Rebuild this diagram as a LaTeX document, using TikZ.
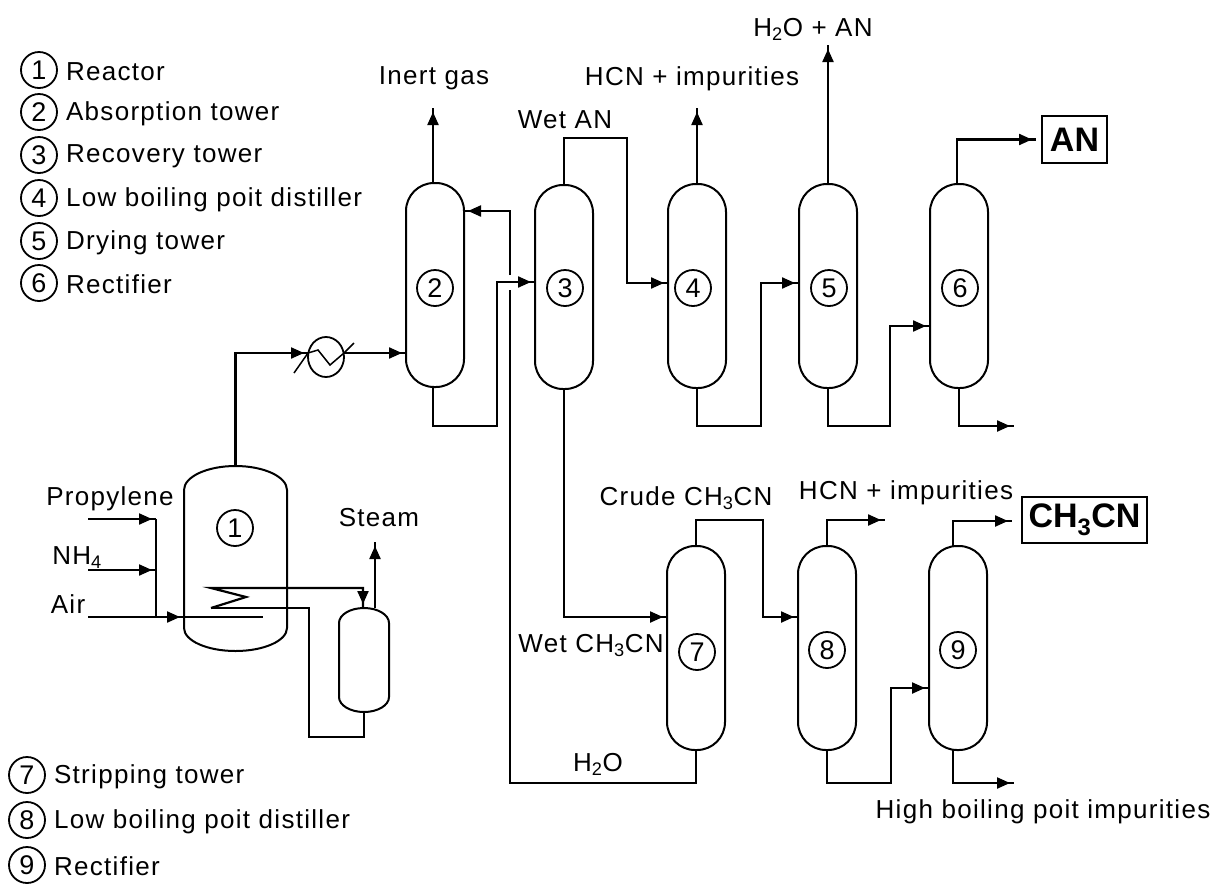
\documentclass[tikz,border=0pt]{standalone}
\usepackage{fontspec}
\setmainfont[LetterSpace=5]{Liberation Sans}
\newfontfamily\boxfont[LetterSpace=0]{Liberation Sans}
\usepackage{tikz}
\usetikzlibrary{arrows.meta,positioning,shapes.geometric,decorations.markings}
\tikzset{
  pipe/.style={line width=2.2pt},
  flow/.style={pipe,postaction={decorate},decoration={markings,mark=at position -4pt with {\arrow{Stealth[length=13pt,width=11pt,inset=0pt]}}}},
  tower/.style={draw,line width=2pt,rounded corners=28pt,minimum width=58pt,minimum height=204pt,inner sep=0pt},
  wall/.style={line width=2pt},
  hollow/.style={inner sep=0pt,outer sep=0pt},
  num/.style={circle,draw,line width=1.8pt,minimum size=36pt,inner sep=0pt,font=\fontsize{27}{30}\selectfont},
  lab/.style={inner sep=0pt,yshift=-1.5pt,font=\fontsize{26}{30}\selectfont},
  product/.style={draw,line width=2pt,inner sep=0pt,font=\boxfont\bfseries\fontsize{34}{38}\selectfont}
}
\begin{document}
\begin{tikzpicture}[x=1pt,y=-1pt]
  \useasboundingbox (0,0) rectangle (1214,884);

  % Draw the legends
  \node[num] (l1) at (39,70) {1};
  \node[lab,right=8pt of l1] (ll1) {Reactor};
  \node[num] (l2) at (39,112) {2};
  \node[lab,right=8pt of l2] (ll2) {Absorption tower};
  \node[num] (l3) at (39,155) {3};
  \node[lab,right=8pt of l3] (ll3) {Recovery tower};
  \node[num] (l4) at (39,198) {4};
  \node[lab,right=8pt of l4] (ll4) {Low boiling poit distiller};
  \node[num] (l5) at (39,241) {5};
  \node[lab,right=8pt of l5] (ll5) {Drying tower};
  \node[num] (l6) at (39,283) {6};
  \node[lab,right=8pt of l6] (ll6) {Rectifier};
  \node[num] (l7) at (27,775) {7};
  \node[lab,right=8pt of l7] (ll7) {Stripping tower};
  \node[num] (l8) at (27,820) {8};
  \node[lab,right=8pt of l8] (ll8) {Low boiling poit distiller};
  \node[num] (l9) at (27,865) {9};
  \node[lab,right=8pt of l9] (ll9) {Rectifier};

  % Draw the towers
  \node[tower] (t2) at (435,285) {};
  \node[tower] (t3) at (564,287) {};
  \node[tower] (t4) at (697,286) {};
  \node[tower] (t5) at (828,286) {};
  \node[tower] (t6) at (959,286) {};
  \node[tower] (t7) at (696,648) {};
  \node[tower] (t8) at (827,648) {};
  \node[tower] (t9) at (958,648) {};
  \node[num] (n2) at (435,288) {2};
  \node[num] (n3) at (565,288) {3};
  \node[num] (n4) at (693,288) {4};
  \node[num] (n5) at (829,288) {5};
  \node[num] (n6) at (960,288) {6};
  \node[num] (n7) at (697,652) {7};
  \node[num] (n8) at (827,650) {8};
  \node[num] (n9) at (958,650) {9};

  % Draw the reactor and the drum
  \node[hollow,minimum width=103pt,minimum height=185pt] (t1) at (235.5,558.5) {};
  \draw[wall] (184,490) arc[start angle=180,end angle=0,x radius=51.5pt,y radius=24pt] -- (287,628)
    arc[start angle=0,end angle=-180,x radius=51.5pt,y radius=23pt] -- cycle;
  \node[num] (n1) at (235,528) {1};
  \node[hollow,minimum width=50pt,minimum height=104pt] (d1) at (364,660) {};
  \draw[wall] (339,623) arc[start angle=180,end angle=0,x radius=25pt,y radius=15pt] -- (389,697)
    arc[start angle=0,end angle=-180,x radius=25pt,y radius=15pt] -- cycle;

  % Draw the exchanger
  \node[ellipse,draw,line width=1.8pt,minimum width=36pt,minimum height=40pt,inner sep=0pt] (hx) at (326,357) {};
  \coordinate (hxa) at (308,353);
  \coordinate (hxb) at (344,353);
  \coordinate (hxc) at (294,373);
  \coordinate (hxd) at (354,343);
  \draw[line width=1.5pt] (hxc) -- (hxa) -- (318,350) -- (330,365) -- (hxb) -- (hxd);

  % Draw the named ports
  \coordinate (in2) at (406,353);
  \coordinate (in2b) at (464,211);
  \coordinate (in3) at (535,282);
  \coordinate (in4) at (668,283);
  \coordinate (in5) at (799,283);
  \coordinate (in6) at (930,326);
  \coordinate (in7) at (667,617);
  \coordinate (in8) at (798,617);
  \coordinate (in9) at (929,688);
  \coordinate (gapa) at (510,290);
  \coordinate (gapb) at (510,275);
  \coordinate (wallair) at (184,617);
  \coordinate (inprop) at (88,519);
  \coordinate (innh) at (88,570);
  \coordinate (inair) at (88,617);
  \coordinate (endair) at (263,617);
  \coordinate (jprop) at (156,519);
  \coordinate (jnh) at (156,570);
  \coordinate (jair) at (156,617);
  \coordinate (coilin) at (211,588);
  \coordinate (coilout) at (211,608);
  \coordinate (topnine) at (953,546);
  \coordinate (botnine) at (953,749);
  \coordinate (topsix) at (957,184);

  % Draw the free ends
  \coordinate (outinert) at (433,108);
  \coordinate (outhcn) at (697,108);
  \coordinate (outwater) at (828,45);
  \coordinate (outsteam) at (375,542);
  \coordinate (outsix) at (1014,426);
  \coordinate (outeight) at (885,520);
  \coordinate (outnine) at (1014,783);
  \coordinate (outnineb) at (1012,521);

  % Draw the pipes on the feed side
  \draw[flow] (inprop) -- (jprop);
  \draw[flow] (innh) -- (jnh);
  \draw[flow] (inair) -- (wallair);
  \draw[pipe] (wallair) -- (endair);
  \draw[pipe] (jprop) -- (jair);
  \draw[flow] (t1.north) |- (hxa);
  \draw[flow] (hxb) -- (in2);
  \draw[flow] (coilout) -- (246,597) -- (coilin) -- (363,588) -- (363,608);
  \draw[pipe] (coilout) -- (309,608) -- (309,737) -| (d1.south);
  \draw[flow] (375,608) -- (outsteam);

  % Draw the pipes of the upper row
  \draw[flow] (433,183) -- (outinert);
  \draw[flow] (433,387) |- (497,426) |- (in3);
  \draw[flow] (gapb) |- (in2b);
  \draw[pipe] (gapa) -- (510,783) -| (t7.south);
  \draw[flow] (t3.north) |- (627,138) |- (in4);
  \draw[flow] (t3.south) |- (in7);
  \draw[flow] (t4.north) -- (outhcn);
  \draw[flow] (t4.south) |- (761,426) |- (in5);
  \draw[flow] (t5.north) -- (outwater);
  \draw[flow] (t5.south) |- (890,426) |- (in6);
  \draw[flow] (t6.south) |- (outsix);

  % Draw the pipes of the lower row
  \draw[flow] (t7.north) |- (763,520) |- (in8);
  \draw[flow] (t8.north) |- (outeight);
  \draw[flow] (t8.south) |- (891,783) |- (in9);
  \draw[flow] (topnine) |- (outnineb);
  \draw[flow] (botnine) |- (outnine);

  % Draw the products
  \node[product,minimum width=65pt,minimum height=47pt] (an) at (1074.5,139.5) {AN};
  \node[product,minimum width=125pt,minimum height=46pt] (acn) at (1084.5,520) {CH\textsubscript{3}CN};
  \draw[flow] (topsix) |- ([xshift=-5pt]an.west);

  % Draw the stream labels
  \node[lab] (linert) at (434,77) {Inert gas};
  \node[lab] (lhcna) at (692,77) {HCN + impurities};
  \node[lab] (lwater) at (813,28) {H\textsubscript{2}O + AN};
  \node[lab] (lwetan) at (565,118) {Wet AN};
  \node[lab] (lprop) at (110,497) {Propylene};
  \node[lab] (lnh) at (77,556) {NH\textsubscript{4}};
  \node[lab] (lair) at (68,603) {Air};
  \node[lab] (lsteam) at (379,516) {Steam};
  \node[lab] (lcrude) at (686,497) {Crude CH\textsubscript{3}CN};
  \node[lab] (lhcnb) at (906,491) {HCN + impurities};
  \node[lab] (lwetcn) at (591,644) {Wet CH\textsubscript{3}CN};
  \node[lab] (lh) at (598,763) {H\textsubscript{2}O};
  \node[lab] (lhigh) at (1043,810) {High boiling poit impurities};
\end{tikzpicture}
\end{document}
